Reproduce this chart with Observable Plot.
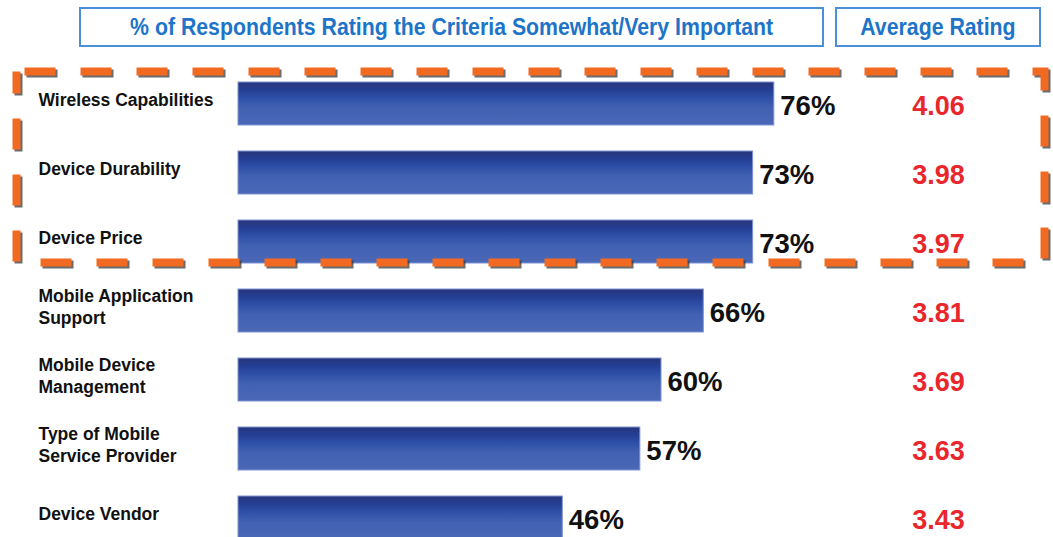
<!DOCTYPE html>
<html><head><meta charset="utf-8">
<script src="https://cdn.jsdelivr.net/npm/d3@7"></script>
<script src="https://cdn.jsdelivr.net/npm/@observablehq/plot@0.6"></script>
<style>
body{margin:0;background:#fff;width:1053px;height:537px;overflow:hidden;font-family:"Liberation Sans",Arial,sans-serif}
#header{position:relative;height:56px}
.hbox{position:absolute;top:7px;height:40px;border:2px solid #4a8fd9;color:#1d74c8;font-family:"Liberation Sans Narrow","Arial Narrow","Liberation Sans",sans-serif;font-weight:bold;font-size:23px;display:flex;align-items:center;justify-content:center;box-sizing:border-box;white-space:nowrap}
.hbox span{display:inline-block;transform:scaleX(0.925)}
#chart svg{display:block}
</style></head><body>
<div id="header"></div>
<div id="chart"></div>
<script>
const categories = ["Wireless Capabilities","Device Durability","Device Price","Mobile Application Support","Mobile Device Management","Type of Mobile Service Provider","Device Vendor"];
const labels = ["Wireless Capabilities","Device Durability","Device Price","Mobile Application\nSupport","Mobile Device\nManagement","Type of Mobile\nService Provider","Device Vendor"];
const percents = [76,73,73,66,60,57,46];
const ratings = ["4.06","3.98","3.97","3.81","3.69","3.63","3.43"];
const headers = ["% of Respondents Rating the Criteria Somewhat/Very Important","Average Rating"];

const data = categories.map((c,i)=>({cat:c,label:labels[i],pct:percents[i],rating:ratings[i]}));

// header boxes
const header = document.getElementById("header");
const boxStyles = [{left:79,width:745},{left:835,width:206}];
headers.forEach((h,i)=>{
  const d = document.createElement("div");
  d.className="hbox";
  d.style.left = boxStyles[i].left+"px";
  d.style.width = boxStyles[i].width+"px";
  const s = document.createElement("span");
  s.textContent = h;
  d.appendChild(s);
  header.appendChild(d);
});

const W = 1053, H = 481;
const plot = Plot.plot({
  width: W, height: H,
  marginLeft:0, marginRight:0, marginTop:0, marginBottom:0,
  x:{domain:[0,100], range:[238, 943], axis:null},
  y:{domain:categories, range:[12.4, 496.6], paddingInner:0.38, paddingOuter:0.19, axis:null},
  style:{fontFamily:'"Liberation Sans", Arial, sans-serif', background:"white"},
  marks:[
    Plot.barX(data,{x:"pct", y:"cat", fill:"url(#barGrad)", stroke:"#7f92d4", strokeWidth:1}),
    Plot.text(data,{y:"cat", text:"label", frameAnchor:"left", dx:38, dy:-5, textAnchor:"start", fontSize:17.5, fontWeight:"bold", fill:"#111", lineHeight:1.24}),
    Plot.text(data,{x:"pct", y:"cat", text:d=>d.pct+"%", dx:6, dy:2, textAnchor:"start", fontSize:27.5, fontWeight:"bold", fill:"#111"}),
    Plot.text(data,{y:"cat", text:"rating", frameAnchor:"left", dx:938, dy:2, textAnchor:"middle", fontSize:27, fontWeight:"bold", fill:"#e8262b"}),
    Plot.frame({stroke:"#3a3a3a", strokeOpacity:0.75, strokeWidth:8, strokeDasharray:"31,25", strokeDashoffset:-8, insetLeft:18, insetRight:7, insetTop:17, insetBottom:273}),
    Plot.frame({stroke:"#f26a21", strokeWidth:8, strokeDasharray:"31,25", strokeDashoffset:-8, insetLeft:16, insetRight:9, insetTop:15, insetBottom:275})
  ]
});
const svgNS = "http://www.w3.org/2000/svg";
const defs = document.createElementNS(svgNS,"defs");
defs.innerHTML = `<linearGradient id="barGrad" x1="0" y1="0" x2="0" y2="1">
  <stop offset="0" stop-color="#29357a"/>
  <stop offset="0.18" stop-color="#243e93"/>
  <stop offset="0.35" stop-color="#2d4ea6"/>
  <stop offset="0.6" stop-color="#4261b2"/>
  <stop offset="1" stop-color="#4a68b6"/>
</linearGradient>`;
plot.insertBefore(defs, plot.firstChild);
document.getElementById("chart").appendChild(plot);
</script>
</body></html>
